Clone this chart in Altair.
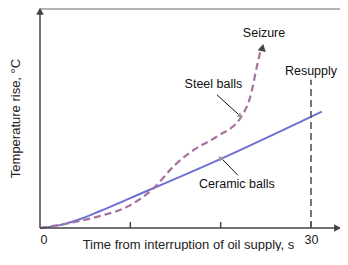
import altair as alt
import pandas as pd

# Ceramic balls (solid) : time s, temperature rise (arbitrary units)
cer_t = [0, 2.2, 4.4, 6.6, 10.0, 19.9, 31.2]
cer_y = [0, 1.3, 4.0, 7.6, 13.6, 31.2, 52.9]
# Steel balls (dashed)
st_t = [0, 4.4, 6.6, 10.0, 12.7, 14.8, 17.1, 19.6, 22.3, 23.4, 24.0, 24.5]
st_y = [0, 3.2, 5.4, 10.4, 18.6, 28.1, 35.7, 41.6, 50.7, 61.5, 73.3, 82.0]

XMAX = 33.21
YMAX = 100.0

cer = pd.DataFrame({"t": cer_t, "y": cer_y})
st = pd.DataFrame({"t": st_t, "y": st_y})

xs = alt.Scale(domain=[0, XMAX], nice=False, zero=False)
ys = alt.Scale(domain=[0, YMAX], nice=False, zero=False)

base_x = alt.X("t:Q", scale=xs,
               axis=alt.Axis(values=[0, 30], title="Time from interruption of oil supply, s",
                             ticks=False, domain=False, grid=False, labelPadding=5,
                             labelFontSize=12.5, labelColor="#222", labelFont="Liberation Sans",
                             titleFont="Liberation Sans", titleFontSize=13, titleFontWeight="normal",
                             titleColor="#222", titleBaseline="alphabetic", titleY=20, titleX=148))
base_y = alt.Y("y:Q", scale=ys,
               axis=alt.Axis(values=[], title="Temperature rise, °C", ticks=False, domain=False,
                             grid=False, labels=False, titleFont="Liberation Sans",
                             titleFontSize=13, titleFontWeight="normal", titleColor="#222",
                             titlePadding=18))

steel = alt.Chart(st).mark_line(color="#A8729F", strokeWidth=2.2, strokeDash=[7, 4],
                                interpolate="monotone").encode(x=base_x, y=base_y)
ceramic = alt.Chart(cer).mark_line(color="#6E70D4", strokeWidth=2,
                                   interpolate="monotone").encode(x="t:Q", y="y:Q")

# frame / axis lines
frame = pd.DataFrame({
    "x": [0, 0, 0, 10, 20, 30],
    "x2": [XMAX, 0, XMAX, 10, 20, 30],
    "y": [0, 0, 99.6, 0, 0, 0],
    "y2": [0, 99.6, 99.6, 2.7, 2.7, 2.7],
    "c": ["ax", "ax", "top", "ax", "ax", "ax"],
})
lines = alt.Chart(frame).mark_rule(strokeWidth=1.5).encode(
    x="x:Q", x2="x2:Q", y="y:Q", y2="y2:Q",
    color=alt.Color("c:N", scale=alt.Scale(domain=["ax", "top"], range=["#444444", "#9a9a9a"]),
                    legend=None))

resupply = alt.Chart(pd.DataFrame({"x": [30], "y": [0], "y2": [67.4]})).mark_rule(
    color="#555555", strokeWidth=1.6, strokeDash=[7, 4]).encode(x="x:Q", y="y:Q", y2="y2:Q")

# arrowheads
heads = pd.DataFrame({
    "x": [0, XMAX - 0.4, 24.6, 22.1, 20.0],
    "y": [98.0, 0, 81.5, 51.2, 31.6],
    "a": [0, 90, 12, 130, 318],
    "s": [60, 60, 70, 30, 30],
    "c": ["ax", "ax", "st", "k", "k"],
})
arrows = alt.Chart(heads).mark_point(shape="triangle", filled=True, opacity=1).encode(
    x="x:Q", y="y:Q", angle=alt.Angle("a:Q", scale=None), size=alt.Size("s:Q", scale=None),
    color=alt.Color("c:N", scale=alt.Scale(domain=["ax", "st", "k"],
                                           range=["#444444", "#A8729F", "#111111"]), legend=None))

leaders = pd.DataFrame({
    "x": [19.6, 21.9],
    "x2": [22.0, 20.2],
    "y": [60.5, 24.0],
    "y2": [51.5, 31.2],
})
lead = alt.Chart(leaders).mark_rule(color="#111111", strokeWidth=1).encode(
    x="x:Q", x2="x2:Q", y="y:Q", y2="y2:Q")

lab = pd.DataFrame({
    "x": [24.8, 19.2, 30.0, 21.8],
    "y": [88.6, 65.5, 71.4, 20.0],
    "text": ["Seizure", "Steel balls", "Resupply", "Ceramic balls"],
})
labels = alt.Chart(lab).mark_text(font="Liberation Sans", fontSize=12.5, color="#111111",
                                  align="center", baseline="middle").encode(
    x="x:Q", y="y:Q", text="text:N")

chart = alt.layer(ceramic, steel, lines, resupply, lead, arrows, labels).properties(
    width=300, height=220,
    autosize=alt.AutoSizeParams(type="none"),
    padding={"left": 32, "top": 0, "right": 0, "bottom": 23},
).configure_view(stroke=None).configure_axis(labelFont="Liberation Sans")

chart.save("out.html", embed_options={"renderer": "svg", "actions": False})
